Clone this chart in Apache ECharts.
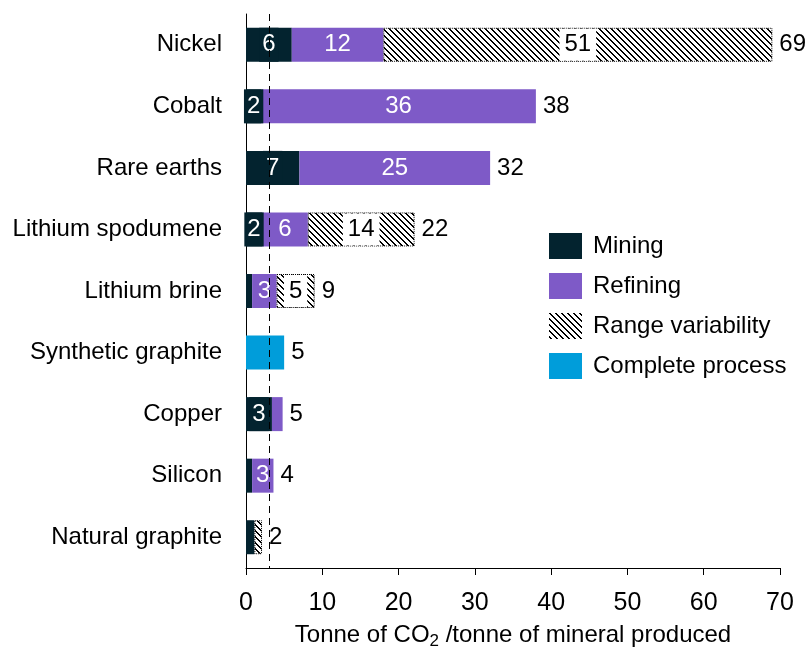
<!DOCTYPE html>
<html>
<head>
<meta charset="utf-8">
<script src="https://cdn.jsdelivr.net/npm/echarts@6/dist/echarts.min.js"></script>
<style>html,body{margin:0;padding:0;background:#fff}#c{width:812px;height:649px}</style>
</head>
<body>
<div id="c"></div>
<script>
const categories = ['Nickel','Cobalt','Rare earths','Lithium spodumene','Lithium brine','Synthetic graphite','Copper','Silicon','Natural graphite'];
const mining    = [6, 2, 7, 2.1, 0.8, '-', 3.4, 0.8, 1.1];
const refining  = [12, 36, 25, 6, 3.2, '-', 1.4, 2.8, '-'];
const complete  = ['-', '-', '-', '-', '-', 5, '-', '-', '-'];
const rangeVar  = [51, '-', '-', 14, 5, '-', '-', '-', 1];
const totals    = [69, 38, 32, 22, 9, 5, 5, 4, 2];
const refLine   = 3;
const xTicks    = [0, 10, 20, 30, 40, 50, 60, 70];

const C_MIN = '#03232F', C_REF = '#7E5AC7', C_CMP = '#009DDA';
const FONT = 'Liberation Sans, Arial, sans-serif';

// hatch pattern
const T = 6;
const pc = document.createElement('canvas');
pc.width = T; pc.height = T;
const g = pc.getContext('2d');
g.fillStyle = '#fff'; g.fillRect(0,0,T,T);
g.fillStyle = '#000';
for (let i = 0; i < T; i++) { g.fillRect(i, i, 1, 1); g.fillRect((i+1)%T, i, 1, 1); }
const hatch = { image: pc, repeat: 'repeat' };

function items(arr, minShow) {
  return arr.map(v => {
    if (v === '-') return v;
    return { value: v, label: { show: v >= minShow } };
  });
}

const chart = echarts.init(document.getElementById('c'));
chart.setOption({
  animation: false,
  textStyle: { fontFamily: FONT },
  grid: { left: 246, right: 32, top: 14, bottom: 81, containLabel: false, outerBoundsMode: 'none' },
  legend: {
    orient: 'vertical', left: 549, top: 233, padding: 0,
    itemWidth: 33, itemHeight: 26, itemGap: 14,
    icon: 'rect',
    data: ['Mining', 'Refining', 'Range variability', 'Complete process'],
    itemStyle: { borderWidth: 0 },
    textStyle: { fontSize: 24, color: '#000', fontFamily: FONT, padding: [0,0,0,6] }
  },
  xAxis: {
    type: 'value', min: xTicks[0], max: xTicks[xTicks.length-1], interval: 10,
    splitLine: { show: false },
    axisLine: { show: true, lineStyle: { color: '#000', width: 1 } },
    axisTick: { show: true, length: 7, lineStyle: { color: '#000' } },
    axisLabel: { fontSize: 25, color: '#000', margin: 23, fontFamily: FONT },
    name: 'Tonne of CO{sub|2} /tonne of mineral produced',
    nameLocation: 'middle', nameGap: 52,
    nameTextStyle: {
      fontSize: 24, color: '#000', fontFamily: FONT,
      rich: { sub: { fontSize: 17, verticalAlign: 'bottom', padding: [13,0,0,0], color: '#000', fontFamily: FONT } }
    }
  },
  yAxis: {
    type: 'category', data: categories, inverse: true,
    axisLine: { show: true, lineStyle: { color: '#000', width: 1 } },
    axisTick: { show: false },
    axisLabel: { fontSize: 24, color: '#000', margin: 24, fontFamily: FONT, padding: [2,0,0,0] }
  },
  series: [
    {
      name: 'Mining', type: 'bar', stack: 's', barWidth: 34,
      itemStyle: { color: C_MIN },
      label: { position: 'inside', color: '#fff', fontSize: 24, backgroundColor: C_MIN, padding: [5,3],
        formatter: p => Math.round(p.value) },
      data: items(mining, 1.5),
      markLine: {
        silent: true, symbol: 'none', label: { show: false },
        lineStyle: { color: '#000', type: [7, 5], width: 1 },
        data: [{ xAxis: refLine }]
      }
    },
    {
      name: 'Refining', type: 'bar', stack: 's',
      itemStyle: { color: C_REF },
      label: { position: 'inside', color: '#fff', fontSize: 24, formatter: p => Math.round(p.value) },
      data: items(refining, 2)
    },
    {
      name: 'Complete process', type: 'bar', stack: 's',
      itemStyle: { color: C_CMP },
      label: { show: false },
      data: complete
    },
    {
      name: 'Range variability', type: 'bar', stack: 's',
      itemStyle: { color: hatch, borderColor: '#000', borderWidth: 1, borderType: 'dotted' },
      label: { position: 'inside', color: '#000', fontSize: 24, backgroundColor: '#fff', padding: [4,5],
        formatter: p => Math.round(p.value) },
      data: items(rangeVar, 2)
    },
    {
      name: 'Total', type: 'bar', stack: 's',
      itemStyle: { color: 'transparent' },
      label: { show: true, position: 'right', distance: 7, color: '#000', fontSize: 24,
        formatter: p => totals[p.dataIndex] },
      data: totals.map(() => 0)
    }
  ]
});
</script>
</body>
</html>
